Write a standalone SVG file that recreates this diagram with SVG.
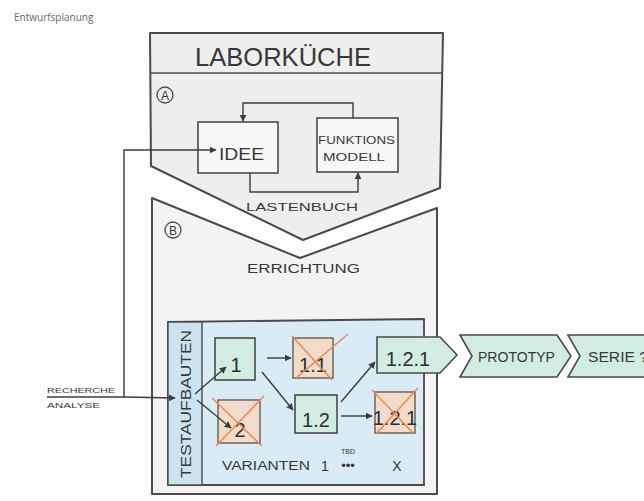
<svg xmlns="http://www.w3.org/2000/svg" width="644" height="501" viewBox="0 0 644 501">
<defs>
<marker id="ah" viewBox="0 0 10 10" refX="9" refY="5" markerWidth="7" markerHeight="7" markerUnits="userSpaceOnUse" orient="auto">
<path d="M0,0 L10,5 L0,10 Z" fill="#3c3c3c"/>
</marker>
<style>
.frame{fill:#eeeeee;stroke:#4a4a4a;stroke-width:2;stroke-linejoin:round}
.frameB{fill:#f3f3f3;stroke:#4a4a4a;stroke-width:2;stroke-linejoin:round}
.box{fill:#f7f7f7;stroke:#4a4a4a;stroke-width:1.6}
.mint{fill:#d3ece2;stroke:#4a4a4a;stroke-width:1.6}
.dead{fill:#f1dccb;stroke:#6a5a50;stroke-width:1.4}
.cross{stroke:#e88a5a;stroke-width:1.6;fill:none}
.conn{stroke:#3c3c3c;stroke-width:1.4;fill:none}
.t{font-family:"Liberation Sans","DejaVu Sans",sans-serif;fill:#383838}
.num{font-family:"Liberation Sans","DejaVu Sans",sans-serif;fill:#2e2e2e;font-size:20px;text-anchor:middle}
</style>
</defs>
<rect width="644" height="501" fill="#fdfdfe"/>
<text x="14" y="21" font-family="Open Sans, sans-serif" font-size="10" fill="#6a6a6a">Entwurfsplanung</text>

<g id="sectionA">
<path class="frame" d="M150,33 L443,33 L440,188 L303,240 L151,166 Z"/>
<line x1="150" y1="73" x2="443" y2="73" stroke="#4a4a4a" stroke-width="1.6"/>
<text class="t" x="195" y="66" font-size="25" textLength="176" lengthAdjust="spacingAndGlyphs">LABORKÜCHE</text>
<circle cx="165" cy="95" r="8" fill="none" stroke="#4a4a4a" stroke-width="1.3"/>
<text class="t" x="165" y="100" font-size="12" text-anchor="middle">A</text>
</g>

<g id="sectionB">
<path class="frameB" d="M152,198 L300,258 L437,208 L437,494 L152,494 Z"/>
<circle cx="173" cy="230" r="8" fill="none" stroke="#4a4a4a" stroke-width="1.3"/>
<text class="t" x="173" y="235" font-size="12" text-anchor="middle">B</text>
<text class="t" x="247" y="273" font-size="12" textLength="113" lengthAdjust="spacingAndGlyphs">ERRICHTUNG</text>
</g>

<g id="idee">
<rect class="box" x="198" y="122" width="80" height="51"/>
<text class="t" x="219" y="160" font-size="16" textLength="45" lengthAdjust="spacingAndGlyphs">IDEE</text>
</g>

<g id="funktionsmodell">
<rect class="box" x="317" y="118" width="81" height="54"/>
<text class="t" x="318" y="144" font-size="10" textLength="77" lengthAdjust="spacingAndGlyphs">FUNKTIONS</text>
<text class="t" x="323" y="161" font-size="10" textLength="62" lengthAdjust="spacingAndGlyphs">MODELL</text>
</g>

<g id="testaufbauten">
<path d="M168,322 L424,319 L424,485 L168,485 Z" fill="#d9ebf4" stroke="#4a4a4a" stroke-width="1.8"/>
<rect x="168" y="322" width="34" height="163" fill="#cde3ef" stroke="#4a4a4a" stroke-width="1.4"/>
<text class="t" transform="translate(191,478) rotate(-90)" font-size="14" textLength="148" lengthAdjust="spacingAndGlyphs">TESTAUFBAUTEN</text>
</g>

<g id="n1">
<rect class="mint" x="215" y="338" width="40" height="42"/>
<text class="num" x="236" y="372">1</text>
</g>
<g id="n2">
<rect class="dead" x="218" y="400" width="42" height="43"/>
<text class="num" x="240" y="437">2</text>
<path class="cross" d="M212,398 L262,446 M264,396 L216,446"/>
</g>
<g id="n11">
<rect class="dead" x="293" y="338" width="40" height="40"/>
<text class="num" x="313" y="372" font-size="17">1.1</text>
<path class="cross" d="M292,336 L332,380 M348,334 L296,378"/>
</g>
<g id="n12">
<rect class="mint" x="295" y="395" width="42" height="38"/>
<text class="num" x="316" y="427" font-size="18">1.2</text>
</g>
<g id="n121">
<path class="mint" d="M377,337 L440,337 L457,355 L440,373 L377,373 Z"/>
<text class="num" x="408" y="366" font-size="19">1.2.1</text>
</g>
<g id="n121x">
<rect class="dead" x="375" y="392" width="40" height="41"/>
<text class="num" x="395" y="425" font-size="14">1.2.1</text>
<path class="cross" d="M372,390 L414,434 M418,388 L376,434"/>
</g>
<g id="prototyp">
<path class="mint" d="M460,335 L557,335 L571,356 L557,377 L460,377 L472,356 Z"/>
<text class="t" x="478" y="362" font-size="14" textLength="77" lengthAdjust="spacingAndGlyphs">PROTOTYP</text>
</g>
<g id="serie">
<path class="mint" d="M568,335 L650,335 L650,377 L568,377 L580,356 Z"/>
<text class="t" x="588" y="362" font-size="14" textLength="60" lengthAdjust="spacingAndGlyphs">SERIE ?</text>
</g>

<g id="varianten">
<text class="t" x="222" y="470" font-size="12" textLength="88" lengthAdjust="spacingAndGlyphs">VARIANTEN</text>
<text class="t" x="325" y="471" font-size="15" text-anchor="middle">1</text>
<text class="t" x="348" y="454" font-size="7" text-anchor="middle">TBD</text>
<text class="t" x="348" y="470" font-size="13" text-anchor="middle">•••</text>
<text class="t" x="397" y="471" font-size="14" text-anchor="middle">X</text>
</g>

<g id="recherche">
<text class="t" x="47" y="393" font-size="7" textLength="68" lengthAdjust="spacingAndGlyphs">RECHERCHE</text>
<text class="t" x="47" y="408" font-size="7" textLength="53" lengthAdjust="spacingAndGlyphs">ANALYSE</text>
</g>

<g id="connectors">
<path class="conn" d="M353,118 L353,103 L243,103 L243,121" marker-end="url(#ah)"/>
<path class="conn" d="M250,173 L250,192 L358,192 L358,173" marker-end="url(#ah)"/>
<text class="t" x="246" y="211" font-size="11" textLength="112" lengthAdjust="spacingAndGlyphs">LASTENBUCH</text>
<path class="conn" d="M47,397 L124,397 L124,150 L216,150" marker-end="url(#ah)"/>
<path class="conn" d="M124,397 L175,398" marker-end="url(#ah)"/>
<path class="conn" d="M195,394 L226,367" marker-end="url(#ah)"/>
<path class="conn" d="M197,400 L231,428" marker-end="url(#ah)"/>
<path class="conn" d="M267,358 L291,358" marker-end="url(#ah)"/>
<path class="conn" d="M262,372 L293,410" marker-end="url(#ah)"/>
<path class="conn" d="M341,402 L375,362" marker-end="url(#ah)"/>
<path class="conn" d="M341,416 L372,416" marker-end="url(#ah)"/>
</g>
</svg>
